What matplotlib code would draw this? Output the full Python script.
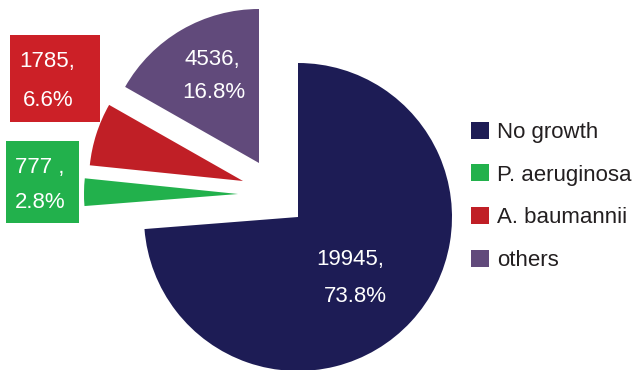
import numpy as np
import matplotlib.pyplot as plt
from matplotlib.patches import Rectangle

plt.rcParams['font.family'] = ['Liberation Sans', 'DejaVu Sans']

# data
labels = ['No growth', 'P. aeruginosa', 'A. baumannii', 'others']
counts = [19945, 777, 1785, 4536]
pct_text = ['73.8%', '2.8%', '6.6%', '16.8%']
count_text = ['19945,', '777 ,', '1785,', '4536,']
colors = ['#1d1c55', '#22b14c', '#c01f26', '#614a7b']
box_colors = [None, '#22b14c', '#cc2027', None]

# pixel helpers (figure is 637x370 px, pie centre at px (298,217), radius 154 px)
R = 154.0
CX, CY = 298.0, 217.0
def px(x, y):
    return ((x - CX) / R, (CY - y) / R)

fig = plt.figure(figsize=(6.37, 3.70), dpi=100)
ax = fig.add_axes([0, 0, 1, 1])

wedges, _ = ax.pie(counts, colors=colors, startangle=90, counterclock=False,
                   radius=1, wedgeprops=dict(linewidth=0))

# shifted slices (px position of each wedge's tip)
tips = [(298, 217), (238, 194), (243, 181), (259, 163)]
for w, t in zip(wedges, tips):
    w.set_center(px(*t))

ax.set_xlim(px(0, 0)[0], px(637, 0)[0])
ax.set_ylim(px(0, 370)[1], px(0, 0)[1])
ax.set_aspect('auto')
ax.axis('off')

# label boxes for the small slices
boxes = {1: (6, 141, 79, 223), 2: (10, 35, 100, 122)}
for i, (x0, y0, x1, y1) in boxes.items():
    a = px(x0, y1)
    b = px(x1, y0)
    ax.add_patch(Rectangle(a, b[0] - a[0], b[1] - a[1], color=box_colors[i], lw=0, zorder=3))

# label text positions (px, centre of first and second line)
lab_pos = {0: ((350, 259), (355, 297)),
           1: ((40, 168), (40, 203)),
           2: ((47, 62), (48, 100)),
           3: ((212, 60), (214, 93))}
for i, (p1, p2) in lab_pos.items():
    ax.text(*px(*p1), count_text[i], color='white', fontsize=16,
            ha='center', va='center', zorder=4)
    ax.text(*px(*p2), pct_text[i], color='white', fontsize=16,
            ha='center', va='center', zorder=4)

leg = ax.legend(wedges, labels, loc='upper left', bbox_to_anchor=(462 / 637, 1 - 113 / 370),
                frameon=False, fontsize=16, handlelength=0.8, handleheight=0.8,
                handletextpad=0.36, labelspacing=0.96, borderaxespad=0)
for t in leg.get_texts():
    t.set_color('#231f20')

fig.savefig('out.png', dpi=100)
